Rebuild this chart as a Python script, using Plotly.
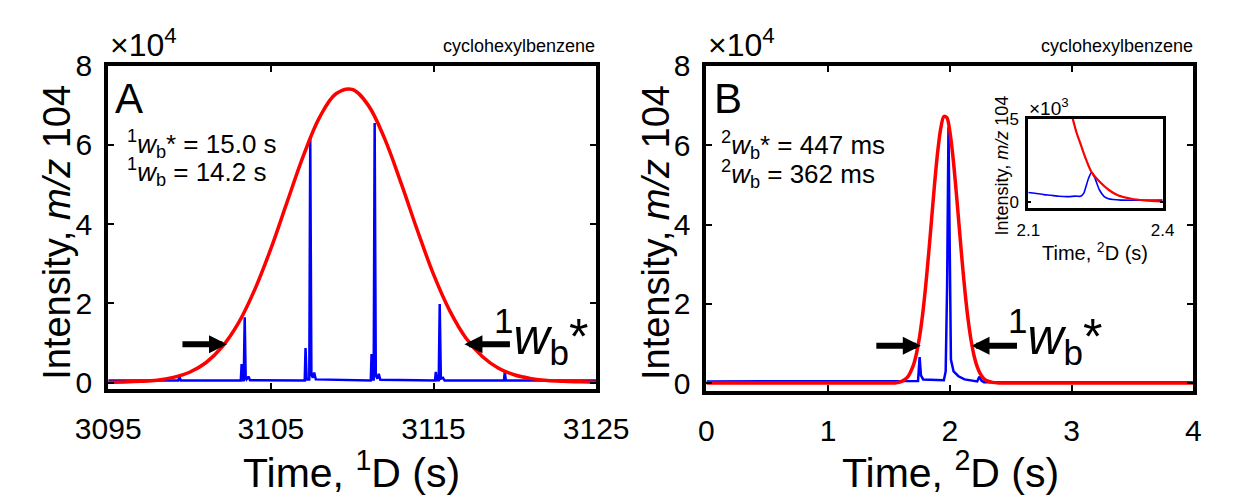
import plotly.graph_objects as go

W, H = 1234, 501
FONT = "Liberation Sans, Arial, sans-serif"

# ---------------- data (intensities in units of 1e4 for main panels, 1e3 for inset) -------------
a_blue_t = [3095.0, 3099.30, 3099.38, 3099.46,
            3103.15, 3103.20, 3103.26, 3103.33, 3103.39, 3103.45, 3103.50, 3103.62, 3103.72,
            3107.08, 3107.13, 3107.20, 3107.36, 3107.42, 3107.49, 3107.58, 3107.66, 3107.76,
            3111.14, 3111.19, 3111.26, 3111.32, 3111.38, 3111.45, 3111.55, 3111.63, 3111.73,
            3115.09, 3115.14, 3115.21, 3115.32, 3115.38, 3115.45, 3115.58, 3115.68,
            3119.33, 3119.38, 3119.45, 3125.0]
a_blue_v = [0.05, 0.05, 0.15, 0.05,
            0.05, 0.47, 0.06, 0.06, 1.65, 0.12, 0.08, 0.15, 0.06,
            0.05, 0.87, 0.08, 0.08, 6.20, 0.20, 0.12, 0.25, 0.08,
            0.05, 0.72, 0.08, 0.08, 6.55, 0.18, 0.10, 0.22, 0.07,
            0.05, 0.27, 0.06, 0.06, 1.98, 0.10, 0.12, 0.05,
            0.05, 0.27, 0.05, 0.05]

a_red_t = [3095, 3096, 3097, 3098, 3099, 3100, 3101, 3102, 3103, 3104, 3105, 3106, 3107, 3108,
           3109, 3110, 3111, 3112, 3113, 3114, 3115, 3116, 3117, 3118, 3119, 3120, 3121, 3122,
           3123, 3124, 3125]
a_red_v = [0.01, 0.015, 0.03, 0.06, 0.13, 0.26, 0.50, 0.90, 1.50, 2.34, 3.38, 4.56, 5.73, 6.70,
           7.29, 7.40, 6.99, 6.15, 5.04, 3.85, 2.73, 1.81, 1.12, 0.66, 0.36, 0.19, 0.10, 0.05,
           0.03, 0.02, 0.01]

b_blue_t = [0.0, 1.70, 1.738, 1.751, 1.762, 1.78, 1.95, 1.965, 1.977, 1.988, 1.997, 2.008,
            2.03, 2.07, 2.12, 2.20, 2.224, 2.241, 2.259, 2.28, 4.0]
b_blue_v = [0.05, 0.05, 0.06, 0.66, 0.20, 0.10, 0.08, 0.30, 2.50, 6.45, 3.20, 0.60,
            0.30, 0.18, 0.10, 0.05, 0.05, 0.17, 0.07, 0.03, 0.03]

b_red_t = [0.0, 1.0, 1.5, 1.55, 1.60, 1.65, 1.70, 1.725, 1.75, 1.775, 1.80, 1.825, 1.85, 1.875,
           1.90, 1.925, 1.95, 1.975, 2.00, 2.025, 2.05, 2.075, 2.10, 2.125, 2.15, 2.175, 2.20,
           2.225, 2.25, 2.275, 2.30, 2.35, 2.40, 3.0, 4.0]
b_red_v = [0.01, 0.01, 0.01, 0.012, 0.045, 0.15, 0.46, 0.75, 1.16, 1.72, 2.43, 3.26, 4.16, 5.06,
           5.85, 6.43, 6.72, 6.69, 6.33, 5.70, 4.88, 3.98, 3.08, 2.27, 1.59, 1.06, 0.67,
           0.41, 0.24, 0.13, 0.07, 0.025, 0.012, 0.01, 0.01]

ins_blue_t = [2.100, 2.115, 2.135, 2.150, 2.169, 2.190, 2.205, 2.217, 2.224, 2.234, 2.241, 2.248,
              2.259, 2.269, 2.279, 2.307, 2.400]
ins_blue_v = [0.55, 0.50, 0.42, 0.38, 0.32, 0.30, 0.33, 0.32, 0.51, 1.37, 1.75, 1.46,
              0.70, 0.32, 0.17, 0.09, 0.09]

ins_red_t = [2.199, 2.208, 2.217, 2.229, 2.241, 2.260, 2.280, 2.300, 2.330, 2.360, 2.400]
ins_red_v = [5.05, 4.15, 3.46, 2.55, 1.80, 1.18, 0.70, 0.38, 0.17, 0.07, 0.0]

a_xticks = [3095, 3105, 3115, 3125]
b_xticks = [0, 1, 2, 3, 4]
main_yticks = [0, 2, 4, 6, 8]
ins_xticks = [2.1, 2.4]
ins_yticks = [0, 5]

BLUE = "#0000ff"
RED = "#ff0000"


def px(x, y):
    return x / W, 1 - y / H


fig = go.Figure()
fig.add_trace(go.Scatter(x=a_blue_t, y=a_blue_v, mode="lines", line=dict(color=BLUE, width=2.5),
                         xaxis="x", yaxis="y"))
fig.add_trace(go.Scatter(x=a_red_t, y=a_red_v, mode="lines",
                         line=dict(color=RED, width=3.5, shape="spline", smoothing=1.0),
                         xaxis="x", yaxis="y"))
fig.add_trace(go.Scatter(x=b_blue_t, y=b_blue_v, mode="lines", line=dict(color=BLUE, width=2.5),
                         xaxis="x2", yaxis="y2"))
fig.add_trace(go.Scatter(x=b_red_t, y=b_red_v, mode="lines",
                         line=dict(color=RED, width=3.5, shape="spline", smoothing=0.8),
                         xaxis="x2", yaxis="y2"))
fig.add_trace(go.Scatter(x=ins_blue_t, y=ins_blue_v, mode="lines",
                         line=dict(color=BLUE, width=1.6, shape="spline", smoothing=0.5),
                         xaxis="x3", yaxis="y3"))
fig.add_trace(go.Scatter(x=ins_red_t, y=ins_red_v, mode="lines",
                         line=dict(color=RED, width=2.2, shape="spline", smoothing=0.8),
                         xaxis="x3", yaxis="y3"))

ax_common = dict(showgrid=False, zeroline=False, showline=True, linecolor="black",
                 ticks="inside", tickcolor="black", mirror="ticks")

xa0, ya1 = px(79.5, 51.5)
xa1, ya0 = px(595, 393.5)
xb0, _ = px(711.5, 0)
xb1, yb0 = px(1226, 396.5)
xi0, yi1 = px(1051.5, 108)
xi1, yi0 = px(1193.5, 202.5)

TICK = 30
fig.update_layout(
    width=W, height=H, margin=dict(l=0, r=0, t=0, b=0), autosize=False,
    paper_bgcolor="white", plot_bgcolor="white", showlegend=False,
    font=dict(family=FONT, color="black"),
    xaxis=dict(**ax_common, domain=[xa0, xa1], range=[3095, 3125], tickvals=a_xticks,
               linewidth=4, ticklen=6, tickwidth=2, tickfont=dict(size=TICK),
               ticklabelstandoff=10, anchor="y"),
    yaxis=dict(**ax_common, domain=[ya0, ya1], range=[-0.15, 8], tickvals=main_yticks,
               linewidth=4, ticklen=6, tickwidth=2, tickfont=dict(size=TICK),
               ticklabelstandoff=6, anchor="x"),
    xaxis2=dict(**ax_common, domain=[xb0, xb1], range=[0, 4], tickvals=b_xticks,
                linewidth=4, ticklen=6, tickwidth=2, tickfont=dict(size=TICK),
                ticklabelstandoff=10, anchor="y2"),
    yaxis2=dict(**ax_common, domain=[yb0, ya1], range=[-0.2, 8], tickvals=main_yticks,
                linewidth=4, ticklen=6, tickwidth=2, tickfont=dict(size=TICK),
                ticklabelstandoff=6, anchor="x2"),
    xaxis3=dict(**ax_common, domain=[xi0, xi1], range=[2.1, 2.4], tickvals=ins_xticks,
                ticktext=["2.1", "2.4"], linewidth=3, ticklen=3, tickwidth=1.5,
                tickfont=dict(size=17), ticklabelstandoff=4, anchor="y3"),
    yaxis3=dict(**ax_common, domain=[yi0, yi1], range=[-0.4, 5], tickvals=ins_yticks,
                linewidth=3, ticklen=3, tickwidth=1.5, tickfont=dict(size=17),
                ticklabelstandoff=3, anchor="x3"),
)

ann = []


def text(x, y, s, size, xanchor="center", yanchor="middle", angle=0):
    xx, yy = px(x, y)
    ann.append(dict(xref="paper", yref="paper", x=xx, y=yy, text=s, showarrow=False,
                    font=dict(size=size, family=FONT, color="black"),
                    xanchor=xanchor, yanchor=yanchor, textangle=angle))


# exponent labels
text(79, 28, "\u00d710<sup>4</sup>", 32, xanchor="left")
text(711, 28, "\u00d710<sup>4</sup>", 32, xanchor="left")
text(1050, 95, "\u00d710<sup>3</sup>", 19, xanchor="left")
# compound names
text(596, 31, "cyclohexylbenzene", 18, xanchor="right")
text(1228, 31, "cyclohexylbenzene", 18, xanchor="right")
# panel letters
text(85, 86, "A", 42, xanchor="left")
text(717, 86, "B", 42, xanchor="left")
# width values
text(97, 134, "<sup>1</sup><i>w</i><sub>b</sub>* = 15.0 s", 26, xanchor="left")
text(97, 164, "<sup>1</sup><i>w</i><sub>b</sub> = 14.2 s", 26, xanchor="left")
text(725, 136, "<sup>2</sup><i>w</i><sub>b</sub>* = 447 ms", 26, xanchor="left")
text(725, 166, "<sup>2</sup><i>w</i><sub>b</sub> = 362 ms", 26, xanchor="left")
# big labels
text(537, 338, "<sup>1</sup><i>w</i><sub>b</sub>*", 50)
text(1080, 338, "<sup>1</sup><i>w</i><sub>b</sub>*", 50)
# axis titles
text(337, 480, "Time, <sup>1</sup>D (s)", 41)
text(969, 480, "Time, <sup>2</sup>D (s)", 41)
text(26, 228, "Intensity, <i>m/z</i> 104", 38, angle=-90)
text(658, 228, "Intensity, <i>m/z</i> 104", 38, angle=-90)
text(1122, 248, "Time, <sup>2</sup>D (s)", 20)
text(1024, 157, "Intensity, <i>m/z</i> 104", 18, angle=-90)


# arrows (tips in data coordinates of each panel)
def arrow(xref, yref, x, y, dx):
    ann.append(dict(xref=xref, yref=yref, x=x, y=y, ax=dx, ay=0, axref="pixel", ayref="pixel",
                    text="", showarrow=True, arrowhead=2, arrowwidth=6, arrowsize=0.6,
                    arrowcolor="black", standoff=0))


arrow("x", "y", 3102.3, 0.97, -46)
arrow("x", "y", 3116.9, 0.97, 47)
arrow("x2", "y2", 1.761, 0.95, -46)
arrow("x2", "y2", 2.177, 0.95, 47)

fig.update_layout(annotations=ann)
fig.write_html("out.html")
